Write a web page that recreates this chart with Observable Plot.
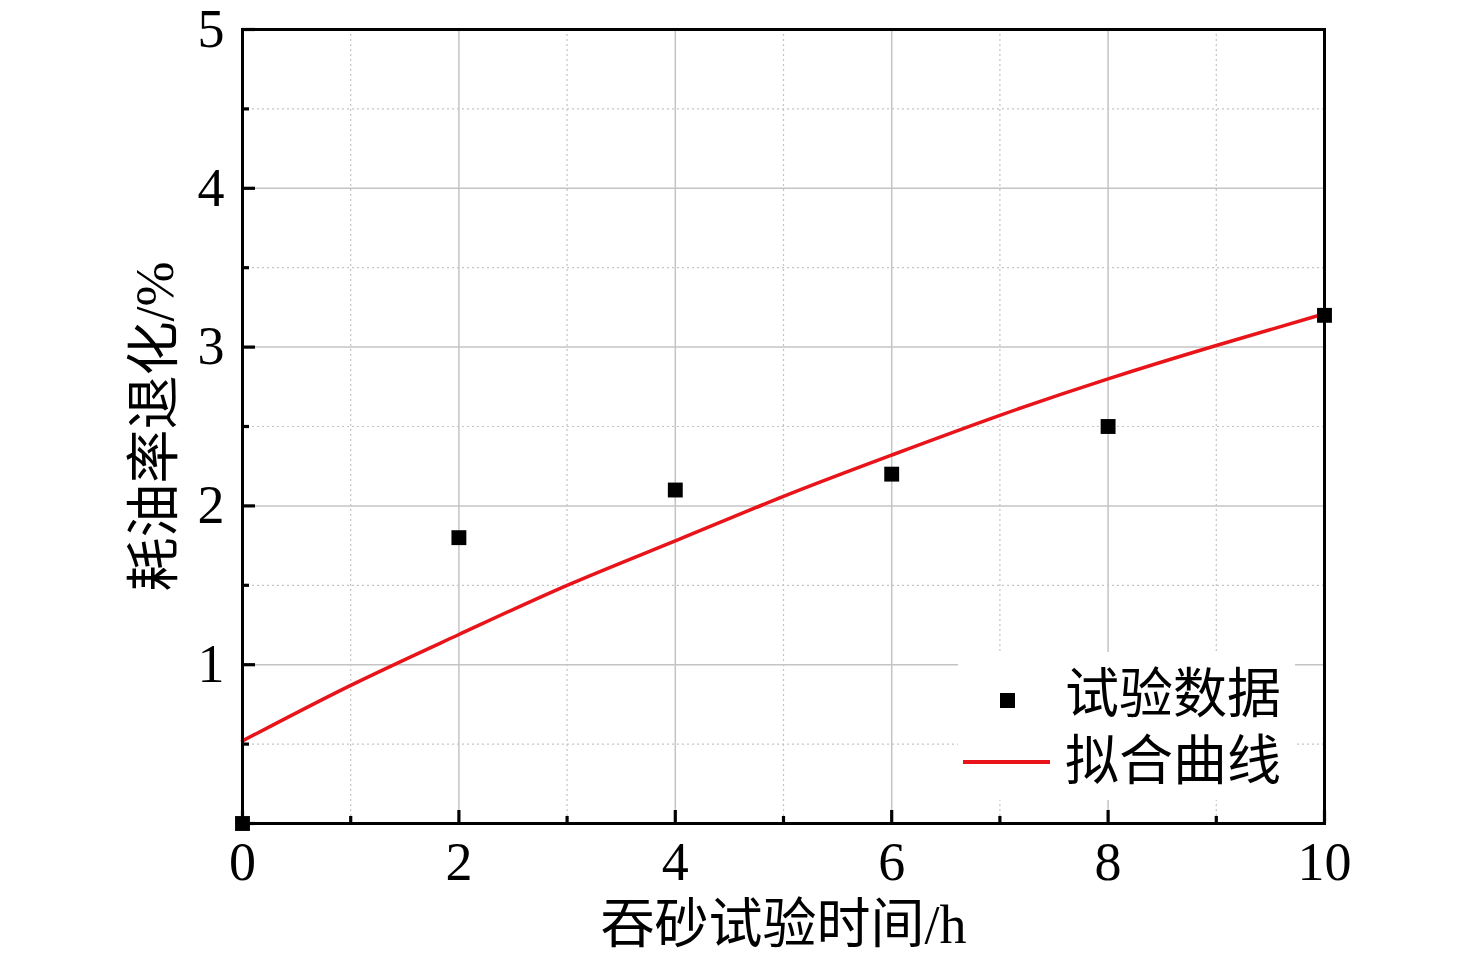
<!DOCTYPE html>
<html><head><meta charset="utf-8">
<script src="https://cdn.jsdelivr.net/npm/d3@7"></script>
<script src="https://cdn.jsdelivr.net/npm/@observablehq/plot@0.6"></script>
<style>
body{margin:0;background:#fff;}
#wrap{position:relative;width:1476px;height:956px;}
#wrap svg{position:absolute;left:0;top:0;}
.leg{position:absolute;left:958px;top:652px;width:337px;height:148px;background:#fff;font-family:"Liberation Serif","Noto Sans CJK SC",serif;font-size:54px;color:#000;}
.leg .t{position:absolute;left:107px;line-height:54px;white-space:nowrap;}
.leg .sq{position:absolute;left:42px;top:41px;width:15px;height:15px;background:#000;}
.leg .ln{position:absolute;left:5px;top:108px;width:87px;height:3.5px;background:#e8141a;}
</style></head><body><div id="wrap"></div>
<script>
// experimental data
const timeH = [0, 2, 4, 6, 8, 10];
const degradation = [0, 1.8, 2.1, 2.2, 2.5, 3.2];
// fitted curve
const fitX = [0, 1, 2, 3, 4, 5, 6, 7, 8, 9, 10];
const fitY = [0.52, 0.87, 1.19, 1.50, 1.78, 2.06, 2.32, 2.57, 2.80, 3.01, 3.21];
// ticks
const xMajor = [0, 2, 4, 6, 8, 10];
const xMinor = [1, 3, 5, 7, 9];
const yMajor = [0, 1, 2, 3, 4, 5];
const yMinor = [0.5, 1.5, 2.5, 3.5, 4.5];
const yTickLabels = [1, 2, 3, 4, 5];
const xTitle = "吞砂试验时间/h";
const yTitle = "耗油率退化/%";
const legendLabels = ["试验数据", "拟合曲线"];

const points = timeH.map((t, i) => ({t, v: degradation[i]}));
const fit = fitX.map((t, i) => ({t, v: fitY[i]}));

const font = '"Liberation Serif","Noto Sans CJK SC",serif';
const gridMajor = {stroke: "#c4c4c4", strokeWidth: 1.5};
const gridMinor = {stroke: "#c4c4c4", strokeWidth: 1.2, strokeDasharray: "2,3"};
const fmt = d => String(d);

const chart = Plot.plot({
  width: 1476, height: 956,
  marginLeft: 242, marginRight: 152, marginTop: 29, marginBottom: 133,
  x: {domain: [0, 10]},
  y: {domain: [0, 5]},
  style: {fontFamily: font, fontSize: "54px", color: "#000", background: "#fff"},
  marks: [
    Plot.ruleX(xMinor, {...gridMinor}),
    Plot.ruleY(yMinor, {...gridMinor}),
    Plot.ruleX(xMajor, {...gridMajor}),
    Plot.ruleY(yMajor, {...gridMajor}),
    Plot.line(fit, {x: "t", y: "v", stroke: "#e8141a", strokeWidth: 3.5, curve: "natural"}),
    Plot.frame({stroke: "#000", strokeWidth: 3}),
    Plot.axisX({ticks: xMajor, tickSize: -13, strokeWidth: 3.2, tickFormat: () => "", label: null}),
    Plot.axisX({ticks: xMinor, tickSize: -7, strokeWidth: 3.2, tickFormat: () => "", label: null}),
    Plot.axisY({ticks: yMajor, tickSize: -13, strokeWidth: 3.2, tickFormat: () => "", label: null}),
    Plot.axisY({ticks: yMinor, tickSize: -7, strokeWidth: 3.2, tickFormat: () => "", label: null}),
    Plot.axisX({ticks: xMajor, tickSize: 0, tickPadding: 18, fontSize: 54, tickFormat: fmt, label: null}),
    Plot.axisY({ticks: yTickLabels, tickSize: 0, tickPadding: 18, fontSize: 54, tickFormat: fmt, label: null}),
    Plot.text([xTitle], {frameAnchor: "bottom", dy: 102, textAnchor: "middle", lineAnchor: "middle", fontSize: 54, fill: "#000"}),
    Plot.text([yTitle], {frameAnchor: "left", dx: -87, rotate: -90, textAnchor: "middle", lineAnchor: "middle", fontSize: 54, fill: "#000"}),
    Plot.dot(points, {x: "t", y: "v", symbol: "square", r: 8.4, fill: "#000", stroke: "none"})
  ]
});
const wrap = document.getElementById("wrap");
wrap.appendChild(chart);
const leg = document.createElement("div");
leg.className = "leg";
leg.innerHTML = `<div class="sq"></div><div class="t" style="top:16px">${legendLabels[0]}</div>` +
  `<div class="ln"></div><div class="t" style="top:83px">${legendLabels[1]}</div>`;
wrap.appendChild(leg);
</script>
</body></html>
